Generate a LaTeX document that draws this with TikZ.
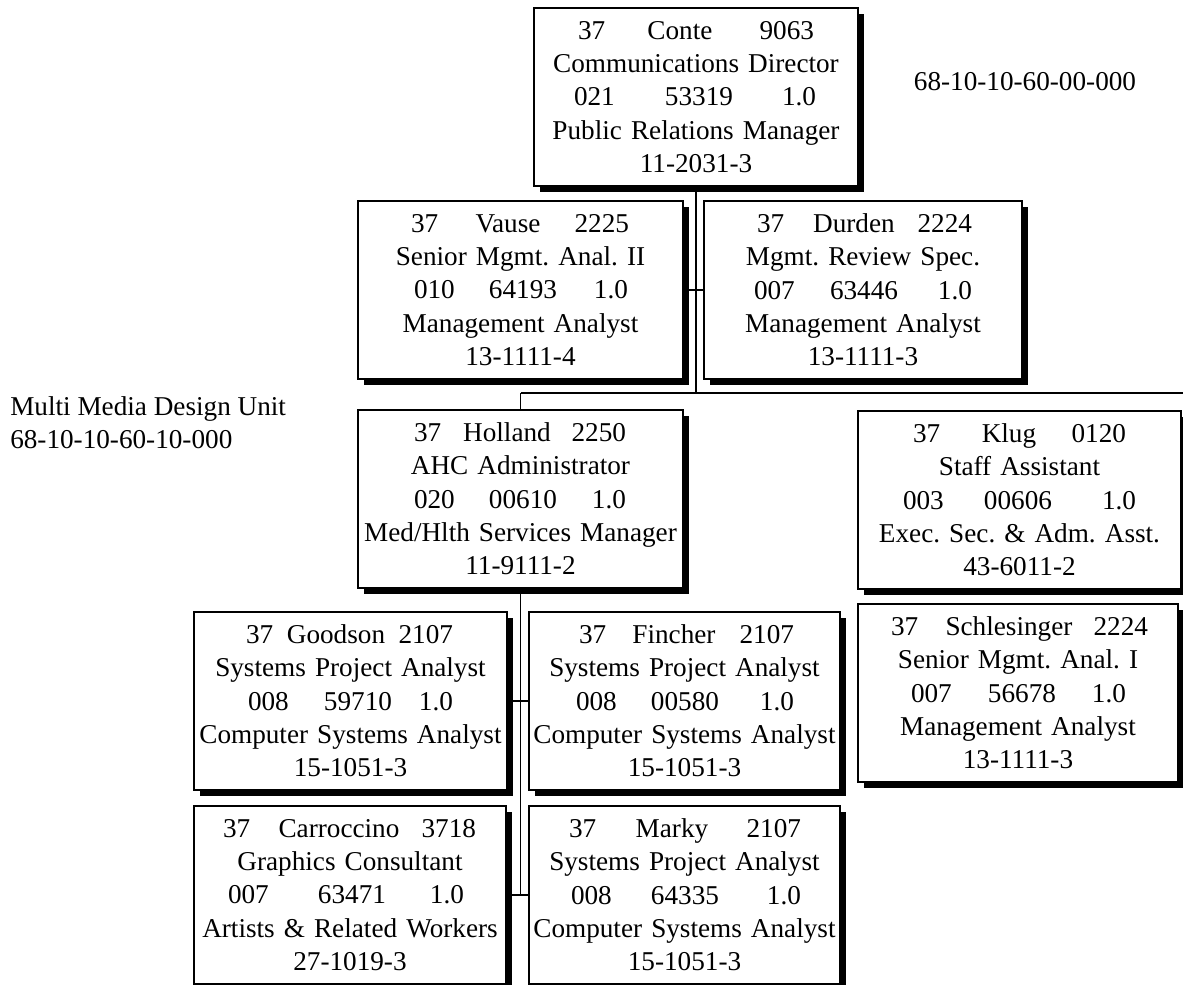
\documentclass[tikz,border=0pt]{standalone}
\usepackage{fontspec}
\setmainfont{Liberation Serif}
\usetikzlibrary{shadows,backgrounds}
\newlength\px
\setlength\px{0.75pt}
% one line with three entries: left-aligned, centred and right-aligned at given offsets
\newcommand\trio[6]{\makebox[\hsize][l]{%
  \rlap{\hspace*{#1\px}#4}%
  \rlap{\hspace*{#2\px}\makebox[0pt]{#5}}%
  \rlap{\hspace*{#3\px}\llap{#6}}}}
\begin{document}
\begin{tikzpicture}[x=0.75pt,y=-0.75pt,
  txt/.style={font=\fontsize{20.4}{25}\selectfont\frenchspacing},
  card/.style={txt, draw=black, line width=1.5pt, fill=white, inner sep=0pt,
    align=center, anchor=north west, minimum height=178\px,
    drop shadow={opacity=1, fill=black, shadow xshift=4.6pt, shadow yshift=-4.6pt}},
  link/.style={line width=1.2pt},
  label/.style={txt, inner sep=0pt}]
\useasboundingbox (0,0) rectangle (1183,985);

\node[card, text width=324\px, minimum width=324\px] (conte) at (533,7)
  {\trio{44}{146}{280}{37}{Conte}{9063}\\ Communications Director\\
   \trio{40}{165}{282}{021}{53319}{1.0}\\ Public Relations Manager\\ 11-2031-3};

\node[card, text width=325\px, minimum width=325\px] (vause) at (357,200)
  {\trio{53}{150}{271}{37}{Vause}{2225}\\ Senior Mgmt. Anal. II\\
   \trio{56}{165}{270}{010}{64193}{1.0}\\ Management Analyst\\ 13-1111-4};

\node[card, text width=318\px, minimum width=318\px] (durden) at (703,200)
  {\trio{53}{150}{268}{37}{Durden}{2224}\\ Mgmt. Review Spec.\\
   \trio{50}{160}{268}{007}{63446}{1.0}\\ Management Analyst\\ 13-1111-3};

\node[card, text width=325\px, minimum width=325\px] (holland) at (357,409)
  {\trio{56}{149}{268}{37}{Holland}{2250}\\ AHC Administrator\\
   \trio{56}{165}{268}{020}{00610}{1.0}\\ Med/Hlth Services Manager\\ 11-9111-2};

\node[card, text width=323\px, minimum width=323\px] (klug) at (857,410)
  {\trio{55}{151}{268}{37}{Klug}{0120}\\ Staff Assistant\\
   \trio{45}{160}{278}{003}{00606}{1.0}\\ Exec. Sec. \& Adm. Asst.\\ 43-6011-2};

\node[card, text width=320\px, minimum width=320\px] (schlesinger) at (857,603)
  {\trio{33}{151}{290}{37}{Schlesinger}{2224}\\ Senior Mgmt. Anal. I\\
   \trio{53}{164}{268}{007}{56678}{1.0}\\ Management Analyst\\ 13-1111-3};

\node[card, text width=313\px, minimum width=313\px] (goodson) at (193,611)
  {\trio{52}{142}{259}{37}{Goodson}{2107}\\ Systems Project Analyst\\
   \trio{54}{164}{259}{008}{59710}{1.0}\\ Computer Systems Analyst\\ 15-1051-3};

\node[card, text width=311\px, minimum width=311\px] (fincher) at (528,611)
  {\trio{50}{145}{265}{37}{Fincher}{2107}\\ Systems Project Analyst\\
   \trio{47}{156}{265}{008}{00580}{1.0}\\ Computer Systems Analyst\\ 15-1051-3};

\node[card, text width=312\px, minimum width=312\px] (carroccino) at (193,805)
  {\trio{29}{145}{282}{37}{Carroccino}{3718}\\ Graphics Consultant\\
   \trio{34}{158}{270}{007}{63471}{1.0}\\ Artists \& Related Workers\\ 27-1019-3};

\node[card, text width=311\px, minimum width=311\px] (marky) at (528,805)
  {\trio{40}{143}{272}{37}{Marky}{2107}\\ Systems Project Analyst\\
   \trio{42}{156}{272}{008}{64335}{1.0}\\ Computer Systems Analyst\\ 15-1051-3};

\node[label] (deptcode) at (1025,82) {68-10-10-60-00-000};
\node[label, anchor=west, align=left] (unit) at (10,423)
  {Multi Media Design Unit\\68-10-10-60-10-000};

% reporting lines
\coordinate (busR) at (1183,393);
\coordinate (busL) at (holland.north |- busR);
\begin{scope}[on background layer]
  \draw[link] (conte.south) -- (conte.south |- busR);
  \draw[link] (vause.east) -- (durden.west);
  \draw[link] (busL) -- (busR);
  \draw[link] (holland.north) -- (busL);
  \draw[link] (holland.south) -- (holland.south |- marky.west);
  \draw[link] (goodson.east) -- (fincher.west);
  \draw[link] (carroccino.east) -- (marky.west);
\end{scope}
\end{tikzpicture}
\end{document}
